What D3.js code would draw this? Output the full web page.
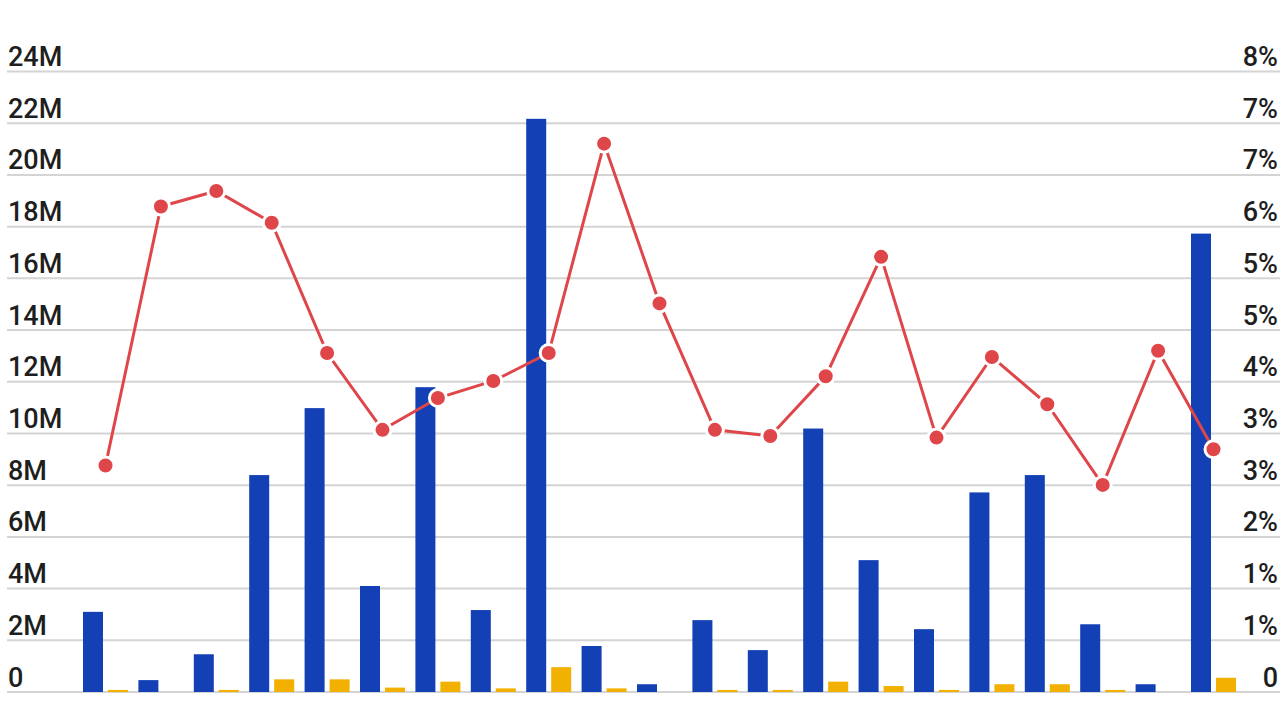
<!DOCTYPE html>
<html>
<head>
<meta charset="utf-8">
<script src="https://cdn.jsdelivr.net/npm/d3@7"></script>
<style>
  html, body { margin: 0; padding: 0; background: #ffffff; }
  svg { display: block; }
  text { font-family: Roboto, "Noto Sans", sans-serif; }
</style>
</head>
<body>
<svg id="chart" width="1280" height="701"></svg>
<script>
// ---- data ----
const categories = ["1","2","3","4","5","6","7","8","9","10","11","12","13","14","15","16","17","18","19","20","21"];
const blueValues = [3.10, 0.46, 1.46, 8.39, 10.98, 4.10, 11.79, 3.17, 22.17, 1.78, 0.30, 2.78, 1.62, 10.19, 5.10, 2.43, 7.72, 8.39, 2.62, 0.30, 17.73]; // millions
const yellowValues = [0.08, 0, 0.08, 0.49, 0.49, 0.17, 0.40, 0.14, 0.96, 0.14, 0, 0.08, 0.08, 0.40, 0.23, 0.08, 0.30, 0.30, 0.08, 0, 0.55]; // millions
const lineValues = [2.92, 6.26, 6.46, 6.05, 4.37, 3.38, 3.79, 4.01, 4.37, 7.07, 5.01, 3.38, 3.30, 4.07, 5.61, 3.28, 4.32, 3.71, 2.67, 4.40, 3.13]; // percent
const leftTicks = [0, 2, 4, 6, 8, 10, 12, 14, 16, 18, 20, 22, 24];
const leftTickLabels = ["0", "2M", "4M", "6M", "8M", "10M", "12M", "14M", "16M", "18M", "20M", "22M", "24M"];
const rightTickLabels = ["0", "1%", "1%", "2%", "3%", "3%", "4%", "5%", "5%", "6%", "7%", "7%", "8%"];
const seriesKeys = ["blue", "yellow"];

// ---- layout ----
const W = 1280, H = 701;
const plotTop = 71.5, plotBottom = 692;
const plotLeft = 78, plotRight = 1241.4;
const colors = { blue: "#1340b4", yellow: "#f2b100", line: "#df4649" };

const svg = d3.select("#chart");

const y = d3.scaleLinear().domain([0, 24]).range([plotBottom, plotTop]);
const yR = d3.scaleLinear().domain([0, 8]).range([plotBottom, plotTop]);
const x0 = d3.scaleBand().domain(categories).range([plotLeft, plotRight]).padding(0);
const x1 = d3.scaleBand().domain(seriesKeys).range([5, 50]).paddingInner(0.2).paddingOuter(0);

// gridlines
const grid = svg.append("g");
grid.selectAll("line").data(leftTicks).join("line")
  .attr("x1", 7).attr("x2", W)
  .attr("y1", d => y(d)).attr("y2", d => y(d))
  .attr("stroke", "#d4d4d4").attr("stroke-width", 2);

// left axis labels
const leftAxis = d3.axisLeft(y).tickValues(leftTicks)
  .tickFormat((d, i) => leftTickLabels[i]).tickSize(0);
const gl = svg.append("g").call(leftAxis);
gl.select(".domain").remove();
gl.selectAll("text")
  .attr("x", 8).attr("dy", null).attr("y", -6).attr("text-anchor", "start")
  .attr("font-size", 27).attr("font-weight", 500).attr("fill", "#1e1e1e")
  .style("font-family", "Roboto, sans-serif");

// right axis labels
const rightAxis = d3.axisRight(yR).tickValues(d3.range(0, 13).map(i => i * 8 / 12))
  .tickFormat((d, i) => rightTickLabels[i]).tickSize(0);
const gr = svg.append("g").attr("transform", `translate(${W - 2},0)`).call(rightAxis);
gr.select(".domain").remove();
gr.selectAll("text")
  .attr("x", 0).attr("dy", null).attr("y", -6).attr("text-anchor", "end")
  .attr("font-size", 27).attr("font-weight", 500).attr("fill", "#1e1e1e")
  .style("font-family", "Roboto, sans-serif");

// bars
const groups = svg.append("g").selectAll("g").data(categories).join("g")
  .attr("transform", d => `translate(${x0(d)},0)`);
groups.selectAll("rect").data((d, i) => [
    { key: "blue", v: blueValues[i] },
    { key: "yellow", v: yellowValues[i] }
  ]).join("rect")
  .attr("x", d => x1(d.key))
  .attr("width", x1.bandwidth())
  .attr("y", d => y(d.v))
  .attr("height", d => plotBottom - y(d.v))
  .attr("fill", d => colors[d.key]);

// line
const cx = (d, i) => x0(categories[i]) + (x1("blue") + x1("yellow") + x1.bandwidth()) / 2;
const line = d3.line().x((d, i) => cx(d, i)).y(d => yR(d));
svg.append("path").datum(lineValues)
  .attr("d", line).attr("fill", "none")
  .attr("stroke", colors.line).attr("stroke-width", 3);
svg.append("g").selectAll("circle").data(lineValues).join("circle")
  .attr("cx", (d, i) => cx(d, i)).attr("cy", d => yR(d))
  .attr("r", 8.5).attr("fill", colors.line)
  .attr("stroke", "#ffffff").attr("stroke-width", 3);
</script>
</body>
</html>
